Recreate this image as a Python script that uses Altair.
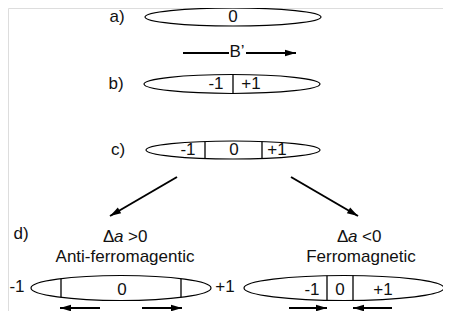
import math
import altair as alt
import pandas as pd

# ---------------- data (page pixel coordinates of the schematic) ----------------
ell_name = ["a", "b", "c", "dL", "dR"]
ell_cx = [233, 232, 233, 121, 344]
ell_cy = [17, 84, 150, 288, 288]
ell_w = [176, 176, 174, 180, 200]
ell_h = [18, 19, 18, 25, 25]

div_ell = ["b", "c", "c", "dL", "dL", "dR", "dR"]
div_x = [233, 205, 262, 61, 181, 327, 353]

lab_text = ["0", "-1", "+1", "-1", "0", "+1", "0", "-1", "+1", "-1", "0", "+1",
            "a)", "b)", "c)", "d)", "B’", "Anti-ferromagentic", "Ferromagnetic"]
lab_x = [233, 216, 251, 188, 234, 277, 122, 17, 225, 312, 340, 383,
         117, 116, 118, 21, 237, 125, 361]
lab_y = [17, 84, 84, 150, 150, 150, 290, 287, 287, 290, 290, 290,
         17, 84, 150, 234, 52, 257, 257]

# "Δa >0" / "Δa <0" pieces (left aligned), italic flag for the "a"
dl_text = ["Δ", "a", ">0", "Δ", "a", "<0"]
dl_x = [103, 114, 128, 337, 348, 362]
dl_y = [237, 237, 237, 237, 237, 237]
dl_italic = [False, True, False, False, True, False]

arr_x1 = [246, 177, 291, 100, 142, 289, 392]
arr_y1 = [53, 177, 177, 308, 308, 308, 308]
arr_x2 = [296, 110, 358, 60, 182, 327, 353]
arr_y2 = [53, 216, 216, 308, 308, 308, 308]

seg_x1 = [183]
seg_y1 = [53]
seg_x2 = [229]
seg_y2 = [53]

# ---------------- build tables ----------------
K = 0.5523
def ellipse_path(r):
    k = K
    return (f"M-1,0C-1,{-k*r:.4f},{-k:.4f},{-r:.4f},0,{-r:.4f}"
            f"C{k:.4f},{-r:.4f},1,{-k*r:.4f},1,0"
            f"C1,{k*r:.4f},{k:.4f},{r:.4f},0,{r:.4f}"
            f"C{-k:.4f},{r:.4f},-1,{k*r:.4f},-1,0Z")

ell = pd.DataFrame({"name": ell_name, "x": ell_cx, "y": ell_cy, "w": ell_w, "h": ell_h})
ell["shape"] = [ellipse_path(h / w) for w, h in zip(ell_w, ell_h)]
ell["size"] = [w * w for w in ell_w]

info = {n: (cx, cy, w, h) for n, cx, cy, w, h in zip(ell_name, ell_cx, ell_cy, ell_w, ell_h)}
dv_rows = []
for n, x in zip(div_ell, div_x):
    cx, cy, w, h = info[n]
    half = h / 2 * math.sqrt(max(0.0, 1 - ((x - cx) / (w / 2)) ** 2))
    dv_rows.append({"x": x, "y": cy - half, "y2": cy + half})
dv = pd.DataFrame(dv_rows)

labs = pd.DataFrame({"t": lab_text, "x": lab_x, "y": lab_y})
dl = pd.DataFrame({"t": dl_text, "x": dl_x, "y": dl_y, "it": dl_italic})

arr = pd.DataFrame({"x": arr_x1, "y": arr_y1, "x2": arr_x2, "y2": arr_y2})
segs = pd.DataFrame({"x": seg_x1, "y": seg_y1, "x2": seg_x2, "y2": seg_y2})
heads = pd.DataFrame({
    "x": arr_x2, "y": arr_y2,
    "angle": [(math.degrees(math.atan2(x2 - x1, -(y2 - y1))) + 360) % 360
              for x1, y1, x2, y2 in zip(arr_x1, arr_y1, arr_x2, arr_y2)],
})

# ---------------- scales: data units == page pixels ----------------
M = 8
PW, PH = 451 - 2 * M, 319 - 2 * M
xs = alt.Scale(domain=[M, M + PW], nice=False, zero=False)
ys = alt.Scale(domain=[M, M + PH], nice=False, zero=False, reverse=True)
X = lambda f="x": alt.X(f"{f}:Q", scale=xs, axis=None)
Y = lambda f="y": alt.Y(f"{f}:Q", scale=ys, axis=None)

FONT = "Liberation Sans"
FS = 17

ellipses = alt.Chart(ell).mark_point(filled=False, color="black", strokeWidth=1.2, opacity=1, clip=False).encode(
    x=X(), y=Y(),
    shape=alt.Shape("shape:N", scale=None),
    size=alt.Size("size:Q", scale=None),
)

dividers = alt.Chart(dv).mark_rule(color="black", strokeWidth=1.3).encode(
    x=X(), y=Y(), y2="y2:Q"
)

texts = alt.Chart(labs).mark_text(font=FONT, fontSize=FS, color="#111", baseline="middle", align="center").encode(
    x=X(), y=Y(), text="t:N"
)

dtexts = alt.Chart(dl[~dl["it"]]).mark_text(font=FONT, fontSize=FS, color="#111", baseline="middle", align="left").encode(
    x=X(), y=Y(), text="t:N"
)
ditalic = alt.Chart(dl[dl["it"]]).mark_text(font=FONT, fontSize=FS, fontStyle="italic", color="#111", baseline="middle", align="left").encode(
    x=X(), y=Y(), text="t:N"
)

lines = alt.Chart(arr).mark_rule(color="black", strokeWidth=2).encode(
    x=X(), y=Y(), x2="x2:Q", y2="y2:Q"
)
seglines = alt.Chart(segs).mark_rule(color="black", strokeWidth=2).encode(
    x=X(), y=Y(), x2="x2:Q", y2="y2:Q"
)

head_path = "M0,0L0.6,2L-0.6,2Z"
arrowheads = alt.Chart(heads).mark_point(filled=True, color="black", opacity=1, strokeWidth=0, clip=False).encode(
    x=X(), y=Y(),
    shape=alt.value(head_path),
    size=alt.value(121),
    angle=alt.Angle("angle:Q", scale=None),
)

chart = alt.layer(
    ellipses, dividers, lines, seglines, arrowheads, texts, dtexts, ditalic
).properties(
    width=PW, height=PH, padding=0, autosize=alt.AutoSizeParams(type="none")
).configure_view(stroke=None).configure(background="white")

chart.save("out.html", embed_options={"renderer": "svg", "actions": False})
